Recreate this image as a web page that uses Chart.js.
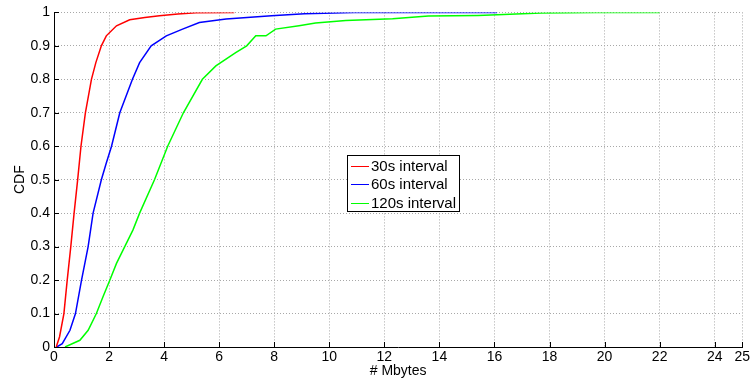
<!DOCTYPE html>
<html>
<head>
<meta charset="utf-8">
<script src="https://cdn.jsdelivr.net/npm/chart.js@4/dist/chart.umd.min.js"></script>
<style>
  body { margin: 0; background: #fff; }
  #wrap { width: 752px; height: 380px; }
</style>
</head>
<body>
<div id="wrap"><canvas id="cdfPlot"></canvas></div>
<script>
// values
var seriesNames = ['30s interval', '60s interval', '120s interval'];
var seriesColors = ['#ff0000', '#0000ff', '#00ff00'];

var x30 = [0.08, 0.2, 0.36, 0.48, 0.61, 0.73, 0.86, 0.98, 1.14, 1.36, 1.52, 1.72, 1.9, 2.27, 2.75, 3.3, 3.83, 4.5, 5.16, 6.55];
var y30 = [0, 0.03, 0.1, 0.2, 0.3, 0.4, 0.5, 0.6, 0.7, 0.8, 0.85, 0.9, 0.93, 0.96, 0.978, 0.985, 0.99, 0.995, 0.999, 1.0];

var x60 = [0.1, 0.3, 0.58, 0.78, 1.0, 1.24, 1.42, 1.72, 1.9, 2.09, 2.39, 2.85, 3.11, 3.53, 4.08, 4.67, 5.28, 6.25, 7.9, 9.1, 10.9, 16.1];
var y60 = [0, 0.01, 0.05, 0.1, 0.2, 0.3, 0.4, 0.5, 0.55, 0.6, 0.7, 0.8, 0.85, 0.9, 0.93, 0.95, 0.97, 0.98, 0.99, 0.996, 1.0, 1.0];

var x120 = [0.4, 0.94, 1.24, 1.54, 1.78, 2.03, 2.27, 2.57, 2.87, 3.11, 3.65, 4.13, 4.7, 5.39, 5.88, 6.6, 7.0, 7.33, 7.7, 8.05, 8.9, 9.5, 10.6, 12.3, 13.6, 15.4, 16.1, 17.7, 19.7, 22.0];
var y120 = [0, 0.02, 0.05, 0.1, 0.15, 0.2, 0.25, 0.3, 0.35, 0.4, 0.5, 0.6, 0.7, 0.8, 0.84, 0.88, 0.9, 0.93, 0.93, 0.95, 0.96, 0.968, 0.976, 0.981, 0.989, 0.991, 0.993, 0.998, 1.0, 1.0];

var xTicks = [0, 2, 4, 6, 8, 10, 12, 14, 16, 18, 20, 22, 24, 25];
var yTicks = [0, 0.1, 0.2, 0.3, 0.4, 0.5, 0.6, 0.7, 0.8, 0.9, 1];

var allX = [x30, x60, x120];
var allY = [y30, y60, y120];

function toPoints(xs, ys) {
    return xs.map(function (v, i) { return { x: v, y: ys[i] }; });
}

var FONT = 'Liberation Sans, Arial, Helvetica, sans-serif';

// matlab style ticks pointing into the plot
var innerTicks = {
    id: 'innerTicks',
    beforeDatasetsDraw: function (chart) {
        var ctx = chart.ctx, a = chart.chartArea;
        var xs = chart.scales.x, ys = chart.scales.y;
        ctx.save();
        ctx.strokeStyle = '#000';
        ctx.lineWidth = 1;
        ctx.beginPath();
        xTicks.forEach(function (t) {
            var p = Math.round(xs.getPixelForValue(t)) + 0.5;
            ctx.moveTo(p, a.bottom);
            ctx.lineTo(p, a.bottom - 5);
        });
        yTicks.forEach(function (t) {
            var p = Math.round(ys.getPixelForValue(t)) + 0.5;
            ctx.moveTo(a.left, p);
            ctx.lineTo(a.left + 5, p);
        });
        ctx.stroke();
        ctx.restore();
    }
};

// boxed legend in the middle of the plot
var boxLegend = {
    id: 'boxLegend',
    afterDraw: function (chart) {
        var ctx = chart.ctx;
        var left = 347.5, top = 155.5, w = 112, h = 56;
        ctx.save();
        ctx.fillStyle = '#fff';
        ctx.fillRect(left, top, w, h);
        ctx.strokeStyle = '#000';
        ctx.lineWidth = 1;
        ctx.strokeRect(left, top, w, h);
        ctx.font = '15px ' + FONT;
        ctx.textBaseline = 'middle';
        chart.data.datasets.forEach(function (ds, i) {
            var cy = Math.round(top + 10 + i * 18.5) + 0.5;
            ctx.strokeStyle = ds.borderColor;
            ctx.beginPath();
            ctx.moveTo(351, cy);
            ctx.lineTo(369, cy);
            ctx.stroke();
            ctx.fillStyle = '#000';
            ctx.fillText(ds.label, 371, cy);
        });
        ctx.restore();
    }
};

new Chart(document.getElementById('cdfPlot'), {
    type: 'line',
    data: {
        datasets: seriesNames.map(function (name, i) {
            return {
                label: name,
                data: toPoints(allX[i], allY[i]),
                borderColor: seriesColors[i],
                borderWidth: 1.5,
                pointRadius: 0,
                tension: 0,
                fill: false
            };
        })
    },
    options: {
        responsive: true,
        maintainAspectRatio: false,
        animation: false,
        layout: { padding: { top: 11, right: 7, left: 0, bottom: 0 } },
        plugins: {
            legend: { display: false },
            tooltip: { enabled: false }
        },
        scales: {
            x: {
                type: 'linear',
                min: 0,
                max: 25,
                afterBuildTicks: function (s) { s.ticks = xTicks.map(function (v) { return { value: v }; }); },
                afterFit: function (s) { s.height = 33; },
                ticks: {
                    color: '#000',
                    padding: 2,
                    maxRotation: 0,
                    autoSkip: false,
                    font: { family: FONT, size: 14 }
                },
                grid: { color: '#a8a8a8', lineWidth: 1, drawTicks: false },
                border: { display: true, color: '#000', width: 1, dash: [1, 2] },
                title: {
                    display: true,
                    text: '# Mbytes',
                    color: '#000',
                    padding: { top: 0, bottom: 0 },
                    font: { family: FONT, size: 14 }
                }
            },
            y: {
                type: 'linear',
                min: 0,
                max: 1,
                afterBuildTicks: function (s) { s.ticks = yTicks.map(function (v) { return { value: v }; }); },
                afterFit: function (s) { s.width = 54; },
                ticks: {
                    color: '#000',
                    padding: 4,
                    autoSkip: false,
                    font: { family: FONT, size: 14 },
                    callback: function (v) { return String(v); }
                },
                grid: { color: '#a8a8a8', lineWidth: 1, drawTicks: false },
                border: { display: true, color: '#000', width: 1, dash: [1, 2] },
                title: {
                    display: true,
                    text: 'CDF',
                    color: '#000',
                    padding: { top: 11.6, bottom: 0 },
                    font: { family: FONT, size: 14 }
                }
            }
        }
    },
    plugins: [innerTicks, boxLegend]
});
</script>
</body>
</html>
